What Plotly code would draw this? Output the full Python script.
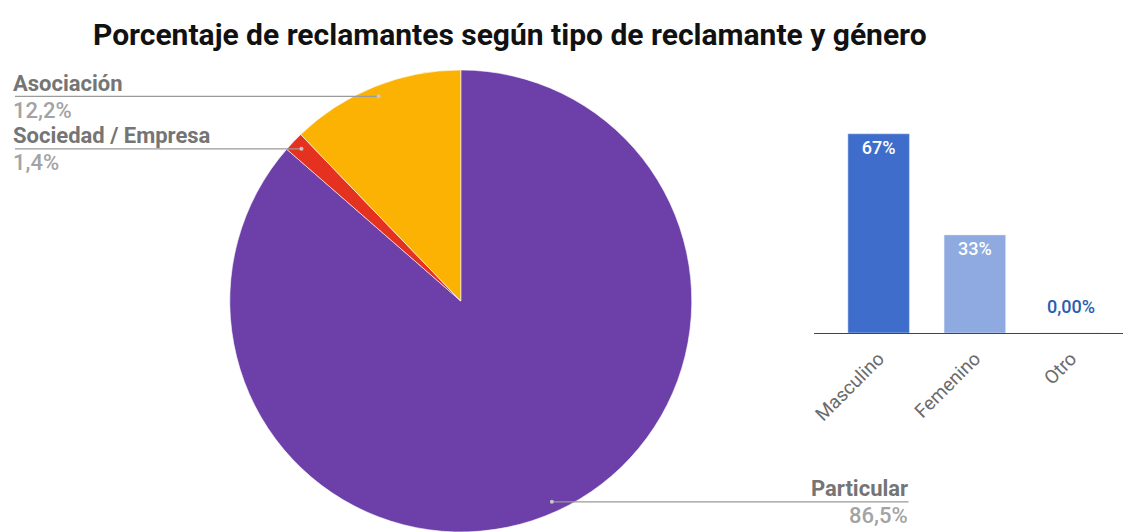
import math
import plotly.graph_objects as go

# ---- data ----
pie_labels = ["Asociación", "Sociedad / Empresa", "Particular"]
pie_values = [12.2, 1.4, 86.5]
pie_value_text = ["12,2%", "1,4%", "86,5%"]
pie_colors = ["#fbb203", "#e5311f", "#6c3fa9"]

bar_categories = ["Masculino", "Femenino", "Otro"]
bar_values = [67, 33, 0]
bar_text = ["67%", "33%", "0,00%"]
bar_colors = ["#3e6dcb", "#8eaae0", "#3e6dcb"]
bar_text_colors = ["white", "white", "#2a5db0"]

title_text = "Porcentaje de reclamantes según tipo de reclamante y género"

W, H = 1123, 532

def px2x(px):
    return px / W

def py2y(py):
    return 1 - py / H

# pie domain (pixels)
pie_left, pie_right, pie_top, pie_bottom = 227, 691, 70, 532
cx = (pie_left + pie_right) / 2
cy = (pie_top + pie_bottom) / 2
R = min(pie_right - pie_left, pie_bottom - pie_top) / 2

fig = go.Figure()

# slices laid out counterclockwise from 12 o'clock == clockwise in reverse order
fig.add_trace(go.Pie(
    labels=pie_labels[::-1], values=pie_values[::-1], sort=False,
    direction="clockwise", rotation=0,
    marker=dict(colors=pie_colors[::-1], line=dict(color="white", width=0.6)),
    textinfo="none", showlegend=False,
    domain=dict(x=[px2x(pie_left), px2x(pie_right)], y=[py2y(pie_bottom), py2y(pie_top)]),
))

inside_text = [t if v > 5 else "" for t, v in zip(bar_text, bar_values)]
fig.add_trace(go.Bar(
    x=bar_categories, y=bar_values, text=inside_text,
    marker=dict(color=bar_colors),
    textposition="inside",
    insidetextanchor="end",
    textfont=dict(color="white", size=18, family="Roboto", weight=500),
    width=0.64, showlegend=False, cliponaxis=False,
    xaxis="x", yaxis="y",
))

annotations = []
for c, v, t, tc in zip(bar_categories, bar_values, bar_text, bar_text_colors):
    if v <= 5:
        annotations.append(dict(x=c, y=v, xref="x", yref="y", text=t, showarrow=False,
                                yanchor="middle", yshift=27,
                                font=dict(family="Roboto", size=18, color=tc, weight=500)))

# leader lines and labels computed from slice geometry (counterclockwise from 12 o'clock)
total = sum(pie_values)
cum = 0
label_left_px = 12
label_right_px = 908
shapes = []
for lab, v, vt in zip(pie_labels, pie_values, pie_value_text):
    mid = (cum + v / 2) / total * 2 * math.pi
    cum += v
    r = 0.955 * R
    ex = cx - math.sin(mid) * r
    ey = cy - math.cos(mid) * r
    if ex < cx:
        x0, x1 = label_left_px, ex
        tx, anchor = label_left_px - 4, "left"
    else:
        x0, x1 = ex, label_right_px
        tx, anchor = label_right_px + 1, "right"
    shapes.append(dict(type="line", xref="paper", yref="paper",
                       x0=px2x(x0), x1=px2x(x1), y0=py2y(ey), y1=py2y(ey),
                       line=dict(color="#9a9a9a", width=1.2)))
    shapes.append(dict(type="circle", xref="paper", yref="paper",
                       x0=px2x(ex - 2), x1=px2x(ex + 2), y0=py2y(ey + 2), y1=py2y(ey - 2),
                       line=dict(width=0), fillcolor="#c8c8c8"))
    annotations.append(dict(x=px2x(tx), y=py2y(ey - 13), xref="paper", yref="paper",
                            text=lab, showarrow=False, xanchor=anchor, yanchor="middle",
                            font=dict(family="Roboto", size=22, color="#757575", weight="bold")))
    annotations.append(dict(x=px2x(tx), y=py2y(ey + 14), xref="paper", yref="paper",
                            text=vt, showarrow=False, xanchor=anchor, yanchor="middle",
                            font=dict(family="Roboto", size=22, color="#a3a3a3", weight=500)))

annotations.append(dict(x=px2x(88), y=py2y(34), xref="paper", yref="paper",
                        text=title_text, showarrow=False, xanchor="left", yanchor="middle",
                        font=dict(family="Roboto", size=30, color="#111111", weight="bold")))

fig.update_layout(
    width=W, height=H,
    margin=dict(l=0, r=0, t=0, b=0),
    paper_bgcolor="white", plot_bgcolor="white",
    xaxis=dict(domain=[px2x(813), 1.0], range=[-0.674, 2.54],
               showgrid=False, zeroline=False, showline=False,
               tickangle=-45, tickfont=dict(family="Roboto", size=19, color="#6b6b6b"),
               ticks="outside", ticklen=6, tickcolor="rgba(0,0,0,0)", fixedrange=True),
    yaxis=dict(domain=[py2y(333), py2y(110)], range=[0, 75],
               showgrid=False, zeroline=True, zerolinecolor="#444444", zerolinewidth=1.2,
               showticklabels=False, showline=False, fixedrange=True),
    shapes=shapes,
    annotations=annotations,
)

fig.write_html("out.html")
